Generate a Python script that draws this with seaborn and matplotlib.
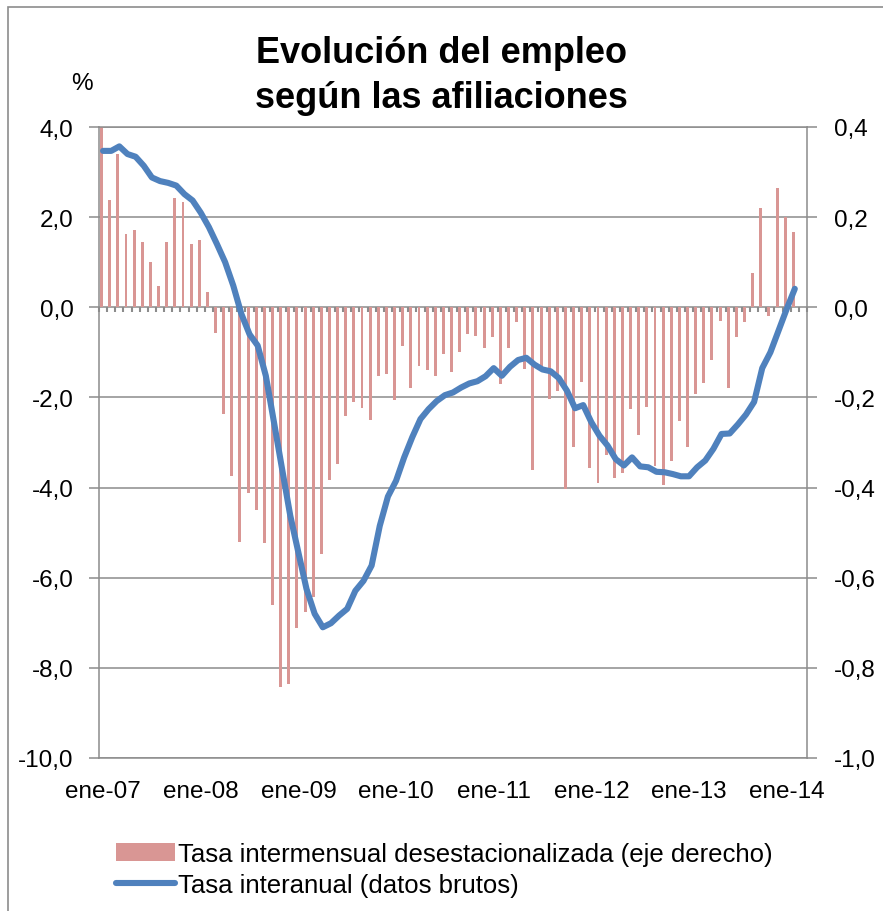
import numpy as np
import pandas as pd
import seaborn as sns
import matplotlib
matplotlib.use("Agg")
import matplotlib.pyplot as plt
from matplotlib.patches import Patch, Rectangle
from matplotlib.lines import Line2D

# monthly data, ene-07 .. feb-14
meses = pd.date_range("2007-01-01", "2014-02-01", freq="MS")

# tasa intermensual desestacionalizada (eje derecho)
intermensual = [0.42, 0.238, 0.339, 0.162, 0.171, 0.144, 0.100, 0.047, 0.144, 0.242,
                0.233, 0.140, 0.149, 0.033, -0.058, -0.236, -0.374, -0.520, -0.413, -0.449,
                -0.524, -0.661, -0.843, -0.835, -0.711, -0.676, -0.643, -0.547, -0.383, -0.347,
                -0.241, -0.210, -0.223, -0.250, -0.152, -0.147, -0.205, -0.086, -0.179, -0.130,
                -0.139, -0.152, -0.103, -0.143, -0.099, -0.059, -0.063, -0.090, -0.067, -0.170,
                -0.090, -0.032, -0.137, -0.360, -0.130, -0.204, -0.185, -0.404, -0.311, -0.165,
                -0.356, -0.390, -0.328, -0.378, -0.367, -0.226, -0.284, -0.222, -0.352, -0.395,
                -0.342, -0.253, -0.311, -0.193, -0.167, -0.118, -0.030, -0.180, -0.067, -0.032,
                0.076, 0.220, -0.019, 0.264, 0.200, 0.167]

# tasa interanual (datos brutos)
interanual = [3.47, 3.47, 3.57, 3.40, 3.34, 3.14, 2.88, 2.80, 2.76, 2.70,
              2.51, 2.37, 2.10, 1.78, 1.40, 1.00, 0.48, -0.15, -0.60, -0.85,
              -1.52, -2.55, -3.59, -4.62, -5.44, -6.25, -6.80, -7.10, -7.01, -6.84,
              -6.69, -6.29, -6.07, -5.73, -4.85, -4.20, -3.85, -3.33, -2.88, -2.48,
              -2.26, -2.08, -1.95, -1.89, -1.78, -1.69, -1.64, -1.53, -1.35, -1.52,
              -1.32, -1.17, -1.12, -1.27, -1.38, -1.42, -1.57, -1.85, -2.24, -2.17,
              -2.55, -2.85, -3.07, -3.37, -3.51, -3.33, -3.53, -3.55, -3.65, -3.66,
              -3.70, -3.75, -3.75, -3.55, -3.40, -3.14, -2.81, -2.80, -2.60, -2.38,
              -2.10, -1.35, -1.00, -0.52, -0.04, 0.41]

etiquetas_x = ["ene-07", "ene-08", "ene-09", "ene-10", "ene-11", "ene-12", "ene-13", "ene-14"]
ticks_izq = [4.0, 2.0, 0.0, -2.0, -4.0, -6.0, -8.0, -10.0]
ticks_der = [0.4, 0.2, 0.0, -0.2, -0.4, -0.6, -0.8, -1.0]

BAR = "#D99694"
LINE = "#4F81BD"
GRID = "#8C8C8C"
FS = 17.5

df = pd.DataFrame({"pos": np.arange(len(meses)),
                   "intermensual": intermensual,
                   "interanual": interanual})
n_cat = len(meses) + 1  # one empty slot at the end of the axis

sns.set_theme(style="white")
plt.rcParams["font.family"] = ["Liberation Sans", "DejaVu Sans"]
plt.rcParams["text.color"] = "black"

fig = plt.figure(figsize=(8.83, 9.12), dpi=100)
ax = fig.add_axes([99 / 883, 1 - 759 / 912, 708 / 883, 631 / 912])
ax2 = ax.twinx()

# bars on the right axis
sns.barplot(x=df["pos"] + 0.32, y=df["intermensual"], native_scale=True,
            width=0.36, color=BAR, saturation=1, errorbar=None,
            linewidth=0, ax=ax2)
# line on the left axis
sns.lineplot(x=df["pos"] + 0.5, y=df["interanual"], color=LINE, linewidth=4.4,
             solid_capstyle="round", solid_joinstyle="round", sort=False, ax=ax)

ax.set_xlim(0, n_cat)
ax.set_ylim(-10, 4)
ax2.set_ylim(-1.0, 0.4)
ax.set_zorder(ax2.get_zorder() + 1)
ax.patch.set_visible(False)
ax.set_xlabel("")
ax.set_ylabel("")
ax2.set_ylabel("")

# grid on the right axis, behind bars
ax2.yaxis.grid(True, color=GRID, linewidth=1.1)
ax2.set_axisbelow(True)

for s in ax2.spines.values():
    s.set_visible(False)
ax2.spines["right"].set_visible(True)
ax2.spines["right"].set_color(GRID)
ax2.spines["right"].set_linewidth(1.1)
for k in ["left", "top", "bottom"]:
    ax.spines[k].set_color(GRID)
    ax.spines[k].set_linewidth(1.1)
ax.spines["right"].set_visible(False)

ax.set_yticks(ticks_izq, labels=[f"{v:.1f}".replace(".", ",") for v in ticks_izq])
ax.tick_params(axis="y", left=True, direction="out", length=7.2, width=1.1,
               color=GRID, pad=11, labelsize=FS, labelcolor="black")
ax2.set_yticks(ticks_der, labels=[f"{v:.1f}".replace(".", ",") for v in ticks_der])
ax2.tick_params(axis="y", right=True, direction="out", length=7.2, width=1.1,
                color=GRID, pad=12, labelsize=FS, labelcolor="black")

ax.set_xticks(np.arange(0, len(meses), 12) + 0.5, labels=etiquetas_x)
ax.tick_params(axis="x", bottom=False, length=0, pad=16, labelsize=FS,
               labelcolor="black")

# monthly ticks along the zero line
sec = ax.secondary_xaxis(10 / 14)
sec.set_alignment("bottom")
sec.set_xticks(np.arange(0, n_cat + 1))
sec.tick_params(axis="x", bottom=True, top=False, labelbottom=False, labeltop=False,
                direction="out", length=3.8, width=1.5, color=GRID)
for s in sec.spines.values():
    s.set_visible(False)

# title and unit
fig.text(441 / 883, 1 - 63 / 912, "Evolución del empleo", ha="center", va="baseline",
         fontsize=26, fontweight="bold", color="black")
fig.text(441 / 883, 1 - 108 / 912, "según las afiliaciones", ha="center", va="baseline",
         fontsize=26, fontweight="bold", color="black")
fig.text(82 / 883, 1 - 90 / 912, "%", ha="center", va="baseline", fontsize=FS,
         color="black")

# legend
handles = [Patch(facecolor=BAR, edgecolor="none"),
           Line2D([], [], color=LINE, linewidth=4.4, solid_capstyle="round")]
fig.legend(handles, ["Tasa intermensual desestacionalizada (eje derecho)",
                     "Tasa interanual (datos brutos)"],
           loc="upper left", bbox_to_anchor=(116 / 883, 1 - 843 / 912),
           frameon=False, fontsize=18.5, labelcolor="black", handlelength=2.3,
           handletextpad=0.12, labelspacing=0.28, borderpad=0, borderaxespad=0)

# chart frame
fig.patches.append(Rectangle((8 / 883, -0.05), 1.2, 1.05 - 8 / 912,
                             transform=fig.transFigure, fill=False,
                             edgecolor=GRID, linewidth=1.2))

fig.savefig("out.png", dpi=100)
